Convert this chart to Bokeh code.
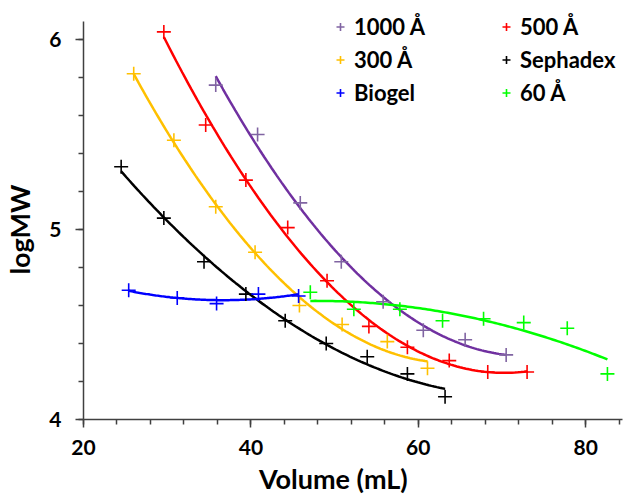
import numpy as np
from bokeh.plotting import figure
from bokeh.models import Range1d, Legend, LegendItem, FixedTicker
from bokeh.embed import file_html
from bokeh.resources import INLINE

# ---- data ----
x_1000 = [35.8, 40.8, 45.9, 50.8, 55.8, 60.6, 65.6, 70.5]
y_1000 = [5.76, 5.50, 5.14, 4.83, 4.62, 4.47, 4.42, 4.34]

x_500 = [29.6, 34.6, 39.4, 44.4, 49.1, 54.1, 58.7, 63.7, 68.3, 73.0]
y_500 = [6.04, 5.55, 5.26, 5.01, 4.73, 4.49, 4.38, 4.31, 4.25, 4.25]

x_300 = [26.0, 30.8, 35.8, 40.5, 45.8, 50.9, 56.3, 61.1]
y_300 = [5.82, 5.47, 5.12, 4.88, 4.60, 4.50, 4.41, 4.27]

x_seph = [24.5, 29.6, 34.4, 39.4, 44.1, 49.0, 53.9, 58.7, 63.2]
y_seph = [5.33, 5.06, 4.83, 4.66, 4.52, 4.40, 4.33, 4.24, 4.12]

x_bio = [25.4, 31.2, 35.9, 40.9, 45.7]
y_bio = [4.68, 4.64, 4.61, 4.66, 4.65]

x_60 = [47.1, 52.3, 57.8, 62.9, 67.8, 72.6, 77.8, 82.6]
y_60 = [4.67, 4.58, 4.58, 4.52, 4.53, 4.51, 4.48, 4.24]

series = [
    ("1000 Å", x_1000, y_1000, "#8064A2", "#7030A0"),
    ("500 Å", x_500, y_500, "#FF0000", "#FF0000"),
    ("300 Å", x_300, y_300, "#FFC000", "#FFC000"),
    ("Sephadex", x_seph, y_seph, "#000000", "#000000"),
    ("Biogel", x_bio, y_bio, "#0000FF", "#0000FF"),
    ("60 Å", x_60, y_60, "#00FF00", "#00FF00"),
]

FONT = "Lato"
NB = "\u00a0"

p = figure(width=624, height=498, output_backend="svg", toolbar_location=None,
           x_range=Range1d(20, 84.4), y_range=Range1d(4, 4 + 419 / 190),
           min_border_left=83, min_border_right=2, min_border_top=0,
           min_border_bottom=79)
p.outline_line_color = None
p.xgrid.visible = False
p.ygrid.visible = False
p.background_fill_color = "white"
p.border_fill_color = "white"

renderers = {}
for name, xs, ys, mcol, lcol in series:
    coef = np.polyfit(xs, ys, 2)
    xx = np.linspace(min(xs), max(xs), 120)
    p.line(xx, np.polyval(coef, xx), line_color=lcol, line_width=2.5)
for name, xs, ys, mcol, lcol in series:
    r = p.scatter(xs, ys, marker="cross", size=14, line_color=mcol, line_width=1.6)
    renderers[name] = r

for ax, lab in ((p.xaxis[0], "Volume (mL)" + NB * 6), (p.yaxis[0], "logMW" + NB * 6)):
    ax.axis_label = lab
    ax.axis_label_text_font = FONT
    ax.axis_label_text_font_style = "bold"
    ax.axis_label_text_font_size = "27px"
    ax.axis_label_text_color = "#000000"
    ax.major_label_text_font = FONT
    ax.major_label_text_font_style = "bold"
    ax.major_label_text_font_size = "21px"
    ax.major_label_text_color = "#000000"
    ax.axis_line_color = "#404040"
    ax.axis_line_width = 1.5
    ax.major_tick_line_color = "#404040"
    ax.minor_tick_line_color = "#404040"
    ax.major_tick_line_width = 1.5
    ax.minor_tick_line_width = 1.5
    ax.major_tick_in = 0
    ax.major_tick_out = 8
    ax.minor_tick_in = 0
    ax.minor_tick_out = 5

p.yaxis[0].bounds = (4, 6.095)
p.xaxis[0].ticker = FixedTicker(ticks=[20, 40, 60, 80],
                                minor_ticks=list(range(20, 85, 4)))
p.yaxis[0].ticker = FixedTicker(ticks=[4, 5, 6],
                                minor_ticks=[4 + 0.2 * i for i in range(11)])
p.xaxis[0].major_label_standoff = 12
p.xaxis[0].axis_label_standoff = 4
p.yaxis[0].major_label_standoff = 14
p.yaxis[0].axis_label_standoff = 10

def make_legend(names, loc):
    lg = Legend(items=[LegendItem(label=n, renderers=[renderers[n]]) for n in names],
                location=loc)
    lg.label_text_font = FONT
    lg.label_text_font_style = "bold"
    lg.label_text_font_size = "22px"
    lg.label_text_color = "#000000"
    lg.border_line_color = None
    lg.background_fill_alpha = 0
    lg.padding = 0
    lg.margin = 0
    lg.spacing = 0
    lg.glyph_width = 20
    lg.glyph_height = 33
    lg.label_height = 33
    lg.label_standoff = 4
    p.add_layout(lg, "center")

make_legend(["1000 Å", "300 Å", "Biogel"], (247, 310))
make_legend(["500 Å", "Sephadex", "60 Å"], (413, 310))

open("out.html", "w").write(file_html(p, INLINE))
